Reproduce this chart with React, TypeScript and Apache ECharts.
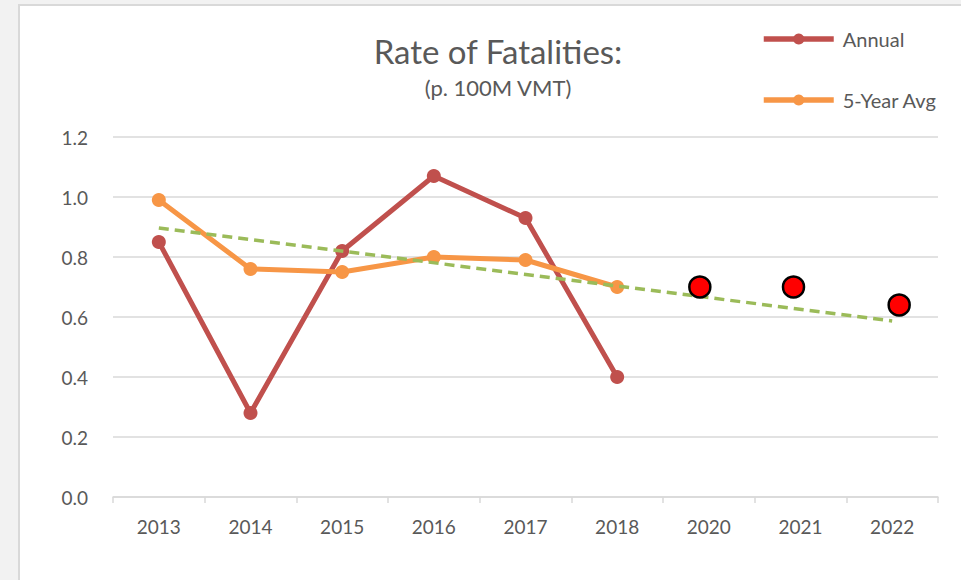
import React, { useEffect, useRef } from "react";
import * as echarts from "echarts";

const categories = ["2013", "2014", "2015", "2016", "2017", "2018", "2020", "2021", "2022"];
const annual = [0.85, 0.28, 0.82, 1.07, 0.93, 0.4, null, null, null];
const fiveYearAvg = [0.99, 0.76, 0.75, 0.8, 0.79, 0.7, null, null, null];
const targets = [null, null, null, null, null, null, 0.7, 0.7, 0.64];
const targetShift = [0, 0, 0, 0, 0, 0, -9, -7, 7];
const trend = [0.897, null, null, null, null, null, null, null, 0.587];

const FONT = "Lato, 'Open Sans', sans-serif";
const TEXT = "#595959";

export default function App() {
  const ref = useRef<HTMLDivElement>(null);
  useEffect(() => {
    document.body.style.margin = "0";
    const chart = echarts.init(ref.current!, null, { renderer: "svg" });
    chart.setOption({
      animation: false,
      backgroundColor: "#ffffff",
      title: [
        {
          text: "Rate of Fatalities:",
          left: 473,
          top: 23,
          textAlign: "center",
          textStyle: { fontFamily: FONT, fontSize: 33, fontWeight: "normal", color: TEXT },
        },
        {
          text: "(p. 100M VMT)",
          left: 473,
          top: 65,
          textAlign: "center",
          textStyle: { fontFamily: FONT, fontSize: 22, fontWeight: "normal", color: TEXT },
        },
      ],
      legend: {
        orient: "vertical",
        left: 736,
        top: 18,
        itemWidth: 70,
        itemHeight: 14,
        itemGap: 41,
        data: ["Annual", "5-Year Avg"],
        lineStyle: { width: 5.5 },
        textStyle: { fontFamily: FONT, fontSize: 20, color: TEXT, padding: [0, 0, 0, 4] },
      },
      grid: { left: 93, right: 23, top: 131, bottom: 83 },
      xAxis: {
        type: "category",
        data: categories,
        boundaryGap: true,
        axisLine: { lineStyle: { color: "#d9d9d9", width: 1.5 } },
        axisTick: { show: true, length: 6, lineStyle: { color: "#d9d9d9", width: 1.5 } },
        axisLabel: { fontFamily: FONT, fontSize: 19, color: TEXT, margin: 20 },
      },
      yAxis: {
        type: "value",
        min: 0,
        max: 1.2,
        interval: 0.2,
        axisLine: { show: false },
        axisTick: { show: false },
        splitLine: { lineStyle: { color: "#d9d9d9", width: 1.5 } },
        axisLabel: {
          fontFamily: FONT,
          fontSize: 19,
          color: TEXT,
          margin: 25,
          formatter: (v: number) => v.toFixed(1),
        },
      },
      series: [
        {
          name: "Annual",
          type: "line",
          data: annual,
          symbol: "circle",
          symbolSize: 14,
          lineStyle: { color: "#C0504D", width: 5 },
          itemStyle: { color: "#C0504D" },
          z: 3,
        },
        {
          name: "5-Year Avg",
          type: "line",
          data: fiveYearAvg,
          symbol: "circle",
          symbolSize: 14,
          lineStyle: { color: "#F79646", width: 5 },
          itemStyle: { color: "#F79646" },
          z: 4,
        },
        {
          name: "Trend",
          type: "line",
          data: trend,
          connectNulls: true,
          symbol: "none",
          lineStyle: { color: "#9BBB59", width: 3.5, type: [10, 6] },
          z: 5,
        },
        {
          name: "Target",
          type: "scatter",
          data: targets.map((v, i) => ({ value: v, symbolOffset: [targetShift[i], 0] })),
          symbol: "circle",
          symbolSize: 21,
          itemStyle: { color: "#FF0000", borderColor: "#000000", borderWidth: 2.5, opacity: 1 },
          z: 6,
        },
      ],
    });
    return () => chart.dispose();
  }, []);

  return (
    <div style={{ position: "fixed", left: 0, top: 0, width: 961, height: 580, background: "#f2f2f2", overflow: "hidden" }}>
      <div style={{ position: "absolute", left: 18, top: 4, width: 960, height: 600, background: "#d9d9d9" }} />
      <div ref={ref} style={{ position: "absolute", left: 20, top: 6, width: 941, height: 574 }} />
    </div>
  );
}
